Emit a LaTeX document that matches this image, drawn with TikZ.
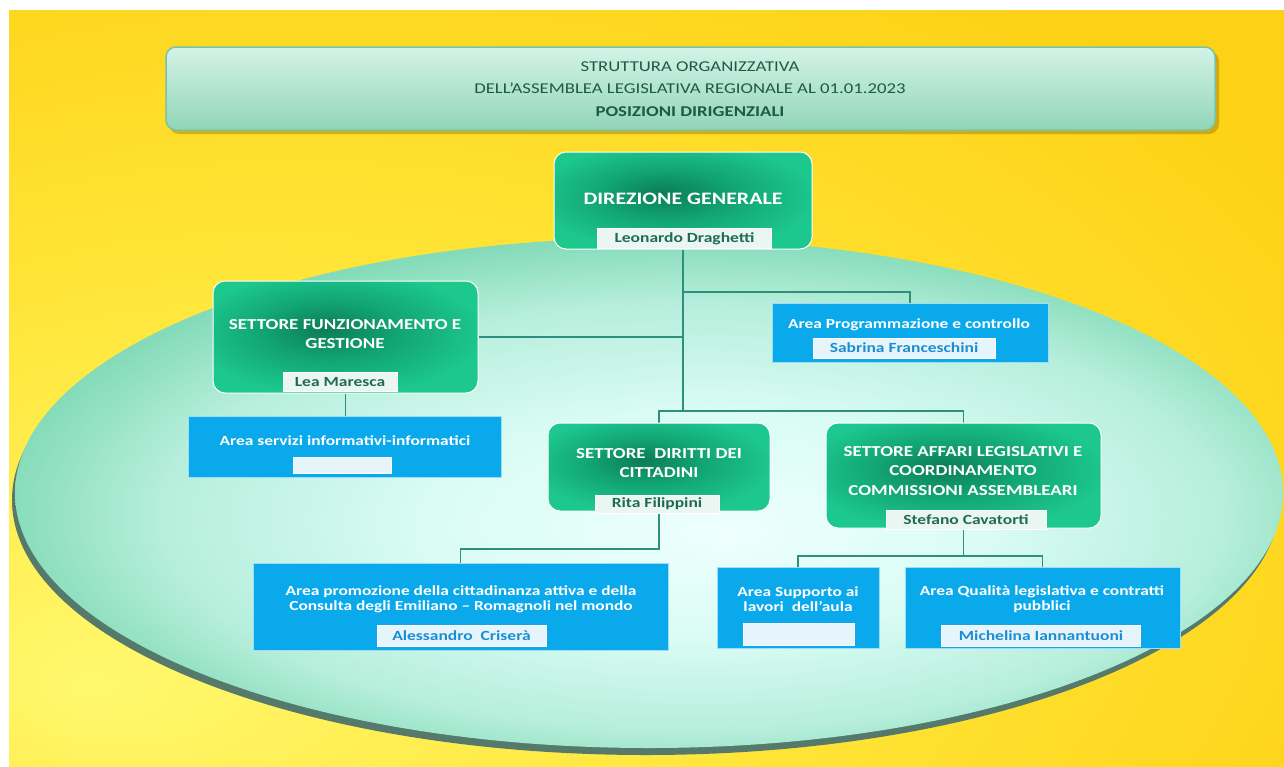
\documentclass[tikz,border=0pt]{standalone}
\usepackage{fontspec}
\setmainfont{Carlito}[FakeStretch=1.25]
\definecolor{yA}{HTML}{FFF86E}
\definecolor{yB}{HTML}{FFE538}
\definecolor{yC}{HTML}{FDD216}
\definecolor{yD}{HTML}{FBC70E}
\definecolor{eA}{HTML}{EEFFFC}
\definecolor{eB}{HTML}{DAFCF5}
\definecolor{eC}{HTML}{B6EEDB}
\definecolor{eD}{HTML}{84DBB9}
\definecolor{gA}{HTML}{0B7C57}
\definecolor{gB}{HTML}{12A574}
\definecolor{gC}{HTML}{1DC88F}
\definecolor{rim}{HTML}{557A6C}
\definecolor{blueA}{HTML}{0AA9EB}
\definecolor{labG}{HTML}{EAF6F2}
\definecolor{labGt}{HTML}{1F6B55}
\definecolor{labB}{HTML}{E6F4FB}
\definecolor{labBt}{HTML}{1B8ED3}
\definecolor{conn}{HTML}{2E8F7C}
\definecolor{titt}{HTML}{1D5A48}
\definecolor{banT}{HTML}{D3F3E7}
\definecolor{banB}{HTML}{92D5B9}
\definecolor{banE}{HTML}{78C4A4}
\pgfdeclareradialshading{yshade}{\pgfpoint{-22bp}{-20bp}}{color(0bp)=(yA); color(22bp)=(yB); color(42bp)=(yC); color(75bp)=(yD)}
\pgfdeclareradialshading{eshade}{\pgfpoint{3bp}{-4bp}}{color(0bp)=(eA); color(11bp)=(eB); color(21bp)=(eC); color(27bp)=(eD); color(50bp)=(eD)}
\pgfdeclareradialshading{gshade}{\pgfpoint{-4bp}{4bp}}{color(0bp)=(gA); color(13bp)=(gB); color(28bp)=(gC); color(50bp)=(gC)}
\pgfdeclarelayer{back}
\pgfdeclarelayer{bg}
\pgfsetlayers{back,bg,main}
\begin{document}
\begin{tikzpicture}[x=1pt,y=-1pt,
  gbox/.style={draw=white, line width=1pt, rounded corners=12pt, shading=gshade, inner sep=0pt},
  bbox/.style={draw=white!60!blueA, line width=0.8pt, fill=blueA, inner sep=0pt},
  banner/.style={draw=banE, line width=1.5pt, rounded corners=10pt, top color=banT, bottom color=banB, inner sep=0pt},
  gtxt/.style={text=white, align=center, inner sep=0pt, font=\bfseries\fontsize{15.2}{19.5}\selectfont},
  btxt/.style={text=white, align=center, inner sep=0pt, font=\bfseries\fontsize{13.9}{15}\selectfont},
  glab/.style={fill=labG, draw=white, line width=0.6pt, text=labGt, inner sep=0pt, font=\bfseries\fontsize{14}{16}\selectfont},
  blab/.style={fill=labB, draw=white, line width=0.6pt, text=labBt, inner sep=0pt, font=\bfseries\fontsize{14}{16}\selectfont},
  cline/.style={draw=conn, line width=1.1pt}
]
\useasboundingbox (0,0) rectangle (1284,766);
\begin{pgfonlayer}{back}
  \fill[white] (0,0) rectangle (1284,766);
  \shade[shading=yshade] (9,10) rectangle (1284,766);
  \fill[rim] (646,500) ellipse [x radius=634, y radius=255];
  \shade[shading=eshade] (649,493) ellipse [x radius=634, y radius=255];
  \fill[black!35!yD, opacity=0.5, rounded corners=10pt] (169,51) rectangle (1219,134);
\end{pgfonlayer}

% banner
\node[banner, minimum width=1049pt, minimum height=83pt] (BAN) at (690.5,88.5) {};
\node[text=titt, align=center, inner sep=0pt, font=\fontsize{15}{22.5}\selectfont] (TT) at (690,89)
  {STRUTTURA ORGANIZZATIVA\\DELL’ASSEMBLEA LEGISLATIVA REGIONALE AL 01.01.2023\\\textbf{POSIZIONI DIRIGENZIALI}};

% Direzione generale
\node[gbox, minimum width=258pt, minimum height=97pt] (DG) at (683,200.5) {};
\node[gtxt, font=\bfseries\fontsize{17.5}{21}\selectfont] (DGt) at (683,199) {DIREZIONE GENERALE};
\node[glab, minimum width=174pt, minimum height=20pt] (DGl) at (684.5,238.5) {Leonardo Draghetti};

% Settore funzionamento
\node[gbox, minimum width=265pt, minimum height=112pt] (SF) at (345.5,337) {};
\node[gtxt] (SFt) at (345,334) {SETTORE FUNZIONAMENTO E\\GESTIONE};
\node[glab, minimum width=114pt, minimum height=19pt] (SFl) at (340,382) {Lea Maresca};

% Area programmazione
\node[bbox, minimum width=276pt, minimum height=59pt] (AP) at (910,332.5) {};
\node[btxt] (APt) at (909,325) {Area Programmazione e controllo};
\node[blab, minimum width=182pt, minimum height=20pt] (APl) at (904,348) {Sabrina Franceschini};

% Area servizi
\node[bbox, minimum width=313pt, minimum height=61pt] (AS) at (344.5,446.5) {};
\node[btxt] (ASt) at (345,441) {Area servizi informativi-informatici};
\node[blab, minimum width=98pt, minimum height=16pt] (ASl) at (342,465) {};

% Settore diritti
\node[gbox, minimum width=222pt, minimum height=88pt] (DD) at (659,467) {};
\node[gtxt] (DDt) at (659,463) {SETTORE \ DIRITTI DEI\\CITTADINI};
\node[glab, minimum width=124pt, minimum height=18pt] (DDl) at (657,504) {Rita Filippini};

% Settore affari
\node[gbox, minimum width=275pt, minimum height=105pt] (AF) at (963.5,475.5) {};
\node[gtxt] (AFt) at (963,471) {SETTORE AFFARI LEGISLATIVI E\\COORDINAMENTO\\COMMISSIONI ASSEMBLEARI};
\node[glab, minimum width=160pt, minimum height=19pt] (AFl) at (966,520) {Stefano Cavatorti};

% Area promozione
\node[bbox, minimum width=415pt, minimum height=87pt] (PR) at (460.5,606.5) {};
\node[btxt] (PRt) at (461,599) {Area promozione della cittadinanza attiva e della\\Consulta degli Emiliano – Romagnoli nel mondo};
\node[blab, minimum width=169pt, minimum height=21pt] (PRl) at (461.5,635.5) {Alessandro \ Criserà};

% Area supporto
\node[bbox, minimum width=162pt, minimum height=81pt] (SU) at (798,607.5) {};
\node[btxt] (SUt) at (798,599) {Area Supporto ai\\lavori \ dell'aula};
\node[blab, minimum width=111pt, minimum height=22pt] (SUl) at (798.5,634) {};

% Area qualita
\node[bbox, minimum width=275pt, minimum height=81pt] (QU) at (1042.5,607.5) {};
\node[btxt] (QUt) at (1042,599) {Area Qualità legislativa e contratti\\pubblici};
\node[blab, minimum width=199pt, minimum height=21pt] (QUl) at (1041,635.5) {Michelina Iannantuoni};

% connectors
\coordinate (jAP) at (683,292);
\coordinate (bus1) at (683,411);
\coordinate (bus2) at (659,549);
\coordinate (bus3) at (963.5,556);
\begin{pgfonlayer}{bg}
  \draw[cline] (DG.south) -- (bus1);
  \draw[cline] (jAP) -| (AP.north);
  \draw[cline] (SF.east) -- (SF.east -| DG.south);
  \draw[cline] (DD.north) |- (AF.north |- bus1) -- (AF.north);
  \draw[cline] (SF.south) -- (SF.south |- AS.north);
  \draw[cline] (DD.south) -- (bus2) -| (PR.north);
  \draw[cline] (AF.south) -- (bus3);
  \draw[cline] (SU.north) |- (bus3) -| (QU.north);
\end{pgfonlayer}
\end{tikzpicture}
\end{document}
